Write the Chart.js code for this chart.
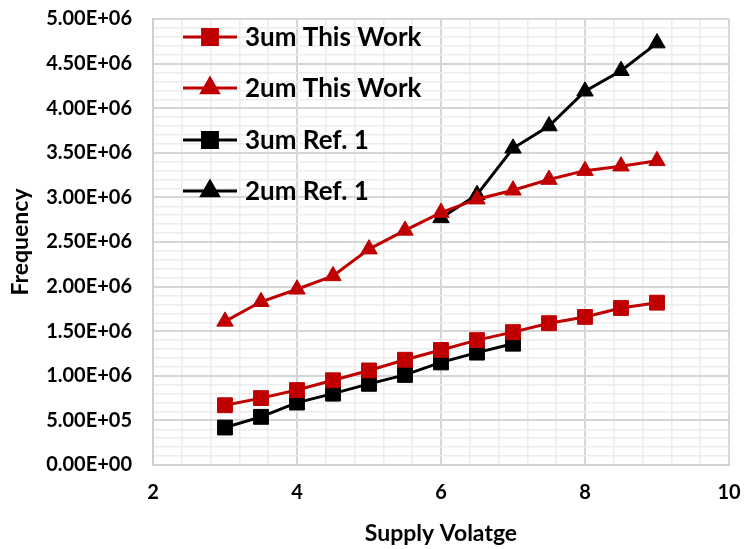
<!DOCTYPE html>
<html>
<head>
<meta charset="utf-8">
<script src="https://cdn.jsdelivr.net/npm/chart.js@4"></script>
<style>
  html, body { margin: 0; padding: 0; background: #fff; }
  #wrap { width: 745px; height: 549px; }
</style>
</head>
<body>
<div id="wrap"><canvas id="myChart" width="745" height="549"></canvas></div>
<script>
// Supply voltage (x) for each series
const voltsThisWork = [3, 3.5, 4, 4.5, 5, 5.5, 6, 6.5, 7, 7.5, 8, 8.5, 9];
const volts3umRef = [3, 3.5, 4, 4.5, 5, 5.5, 6, 6.5, 7];
const volts2umRef = [6, 6.5, 7, 7.5, 8, 8.5, 9];

// Frequency values (Hz)
const freq3umThisWork = [0.67e6, 0.75e6, 0.84e6, 0.95e6, 1.06e6, 1.18e6, 1.29e6, 1.40e6, 1.49e6, 1.59e6, 1.66e6, 1.76e6, 1.82e6];
const freq2umThisWork = [1.61e6, 1.83e6, 1.97e6, 2.12e6, 2.42e6, 2.63e6, 2.83e6, 2.98e6, 3.08e6, 3.20e6, 3.30e6, 3.35e6, 3.41e6];
const freq3umRef1 = [0.42e6, 0.54e6, 0.70e6, 0.80e6, 0.91e6, 1.01e6, 1.15e6, 1.26e6, 1.36e6];
const freq2umRef1 = [2.77e6, 3.03e6, 3.55e6, 3.80e6, 4.19e6, 4.42e6, 4.73e6];

const seriesNames = ["3um This Work", "2um This Work", "3um Ref. 1", "2um Ref. 1"];
const xTickLabels = [2, 4, 6, 8, 10];

const RED = "#c00000";
const BLACK = "#000000";
const FONT = "Lato, 'Liberation Sans', sans-serif";

function pts(xs, ys) {
  return xs.map((x, i) => ({ x: x, y: ys[i] }));
}

function makeSet(label, xs, ys, color, marker) {
  const tri = marker === "triangle";
  return {
    label: label,
    data: pts(xs, ys),
    borderColor: color,
    backgroundColor: color,
    borderWidth: 3,
    pointStyle: marker,
    pointRadius: tri ? 9.5 : 10.5,
    pointBorderWidth: 1,
    pointBorderColor: color,
    pointBackgroundColor: color,
    tension: 0,
  };
}

// legend drawn inside the plot area, no box behind it
const innerLegend = {
  id: "innerLegend",
  afterDatasetsDraw(chart) {
    const ctx = chart.ctx;
    const x0 = 183, x1 = 237, textX = 245;
    const rows = [37, 88, 140, 191];
    ctx.save();
    chart.data.datasets.forEach((ds, i) => {
      const y = rows[i];
      ctx.strokeStyle = ds.borderColor;
      ctx.lineWidth = 3;
      ctx.beginPath();
      ctx.moveTo(x0, y);
      ctx.lineTo(x1, y);
      ctx.stroke();
      ctx.fillStyle = ds.borderColor;
      Chart.helpers.drawPoint(ctx, {
        pointStyle: ds.pointStyle,
        radius: ds.pointRadius,
        borderWidth: 1,
        rotation: 0,
      }, (x0 + x1) / 2, y);
      ctx.fillStyle = "#000";
      ctx.font = "bold 26px " + FONT;
      ctx.textBaseline = "middle";
      ctx.textAlign = "left";
      ctx.fillText(ds.label, textX, y + 1);
    });
    ctx.restore();
  }
};

const isMajor = (v, step) => Math.abs(v / step - Math.round(v / step)) < 1e-6;

const ctx = document.getElementById("myChart").getContext("2d");
const myChart = new Chart(ctx, {
  type: "line",
  data: {
    datasets: [
      makeSet(seriesNames[0], voltsThisWork, freq3umThisWork, RED, "rect"),
      makeSet(seriesNames[1], voltsThisWork, freq2umThisWork, RED, "triangle"),
      makeSet(seriesNames[2], volts3umRef, freq3umRef1, BLACK, "rect"),
      makeSet(seriesNames[3], volts2umRef, freq2umRef1, BLACK, "triangle"),
    ],
  },
  options: {
    responsive: false,
    animation: false,
    layout: { padding: { left: 0, top: 19, right: 16, bottom: 0 } },
    plugins: {
      legend: { display: false },
      tooltip: { enabled: false },
    },
    scales: {
      x: {
        type: "linear",
        min: 2,
        max: 10,
        afterFit(scale) {
          scale.height = 84;
          scale.paddingLeft = 0;
          scale.paddingRight = 0;
        },
        afterBuildTicks(scale) {
          const t = [];
          for (let k = 0; k <= 20; k++) t.push({ value: Math.round((2 + k * 0.4) * 10) / 10 });
          scale.ticks = t;
        },
        ticks: {
          autoSkip: false,
          maxRotation: 0,
          padding: 16,
          color: "#000",
          font: { family: FONT, size: 20, weight: "bold" },
          callback: (v) => (xTickLabels.includes(v) ? String(v) : ""),
        },
        grid: {
          drawTicks: false,
          color: (c) => (isMajor(c.tick.value, 2) ? "#d6d6d6" : "#ececec"),
          lineWidth: (c) => (isMajor(c.tick.value, 2) ? 2 : 1.5),
        },
        border: { color: "#cfcfcf", width: 2 },
        title: {
          display: true,
          text: "Supply Volatge",
          color: "#000",
          font: { family: FONT, size: 23, weight: "bold" },
          padding: { top: 0, bottom: 2 },
        },
      },
      y: {
        min: 0,
        max: 5e6,
        afterFit(scale) {
          scale.width = 153;
          scale.paddingTop = 0;
          scale.paddingBottom = 0;
        },
        ticks: {
          stepSize: 1e5,
          autoSkip: false,
          padding: 21,
          color: "#000",
          font: { family: FONT, size: 20, weight: "bold" },
          callback: (v) => (isMajor(v, 5e5) ? Number(v).toExponential(2).toUpperCase().replace(/E([+-])(\d)$/, "E$10$2") : ""),
        },
        grid: {
          drawTicks: false,
          color: (c) => (isMajor(c.tick.value, 5e5) ? "#d6d6d6" : "#ececec"),
          lineWidth: (c) => (isMajor(c.tick.value, 5e5) ? 2 : 1.5),
        },
        border: { color: "#cfcfcf", width: 2 },
        title: {
          display: true,
          text: "Frequency",
          color: "#000",
          font: { family: FONT, size: 23, weight: "bold" },
          padding: { top: 7, bottom: 0 },
        },
      },
    },
  },
  plugins: [innerLegend],
});
</script>
</body>
</html>
